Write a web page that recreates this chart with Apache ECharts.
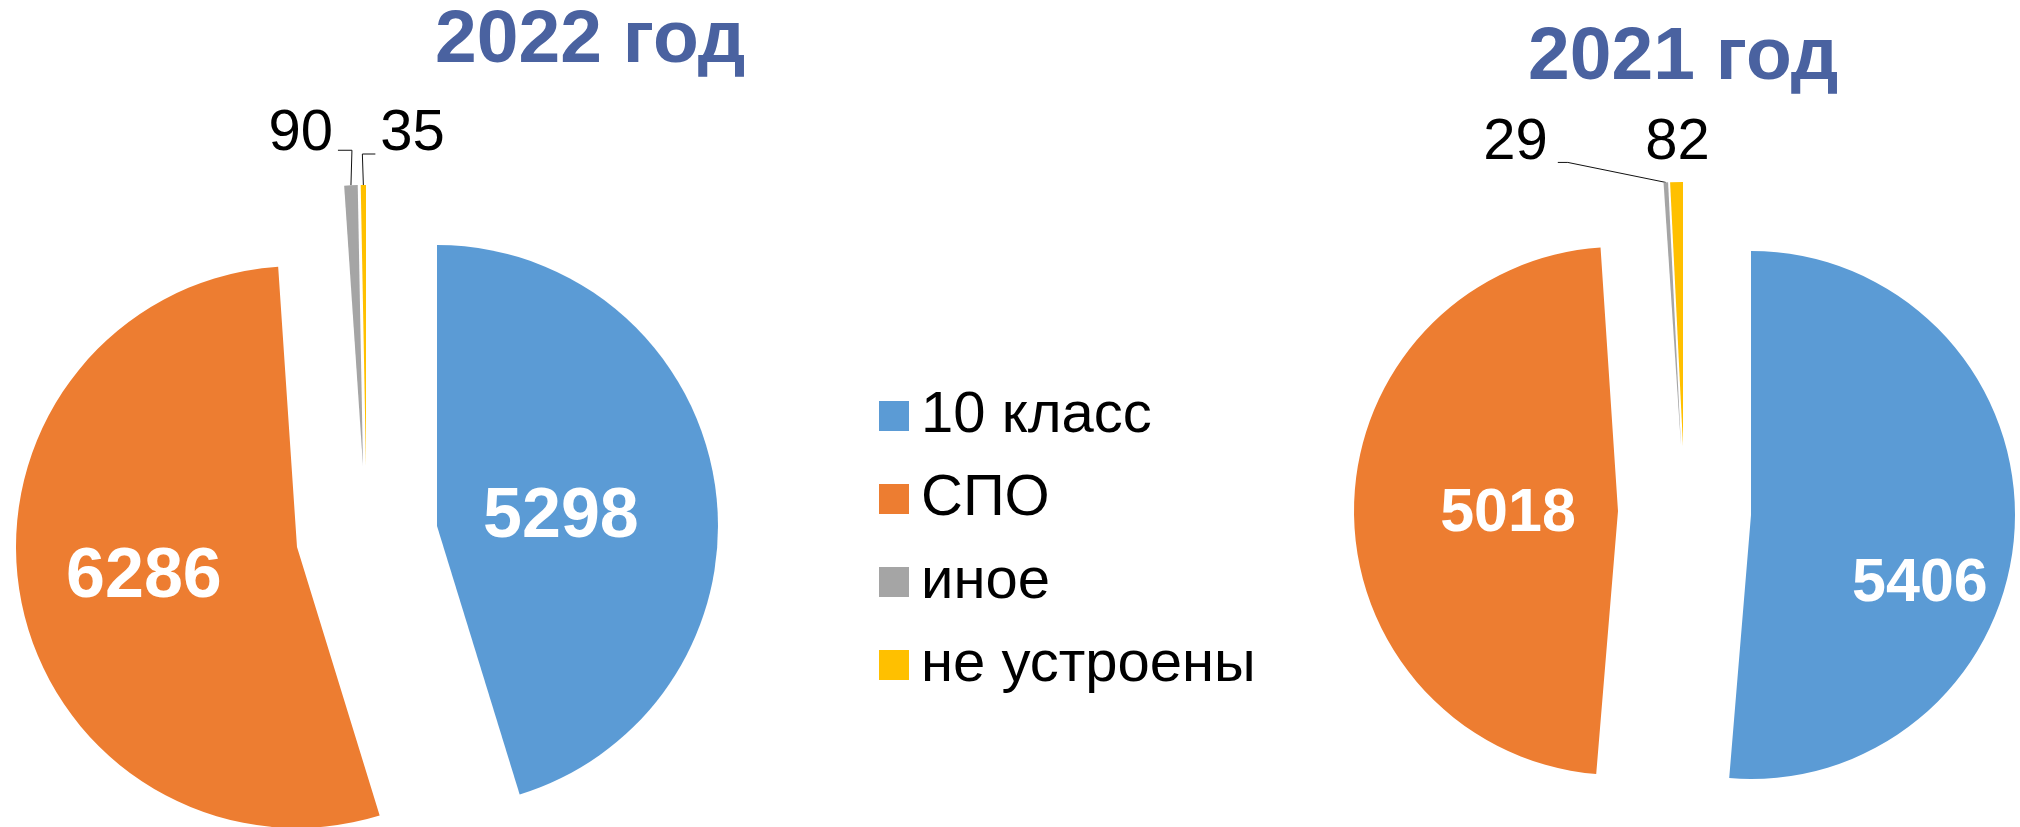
<!DOCTYPE html>
<html>
<head>
<meta charset="utf-8">
<title>Выпускники 9 классов</title>
<script src="https://cdn.jsdelivr.net/npm/echarts@6/dist/echarts.min.js"></script>
<style>
  html, body { margin: 0; background: #fff; }
  #main { width: 2020px; height: 827px; }
</style>
</head>
<body>
<div id="main"></div>
<script>
var categories = ['10 класс', 'СПО', 'иное', 'не устроены'];
var values2022 = [5298, 6286, 90, 35];
var values2021 = [5406, 5018, 29, 82];
var titles = ['2022 год', '2021 год'];
var colors = ['#5B9BD5', '#ED7D31', '#A5A5A5', '#FFC000'];

var FONT = '"Liberation Sans", Arial, sans-serif';

// each slice is exploded on its own, so every slice gets its own centre
var pieLayouts = [
  {
    values: values2022, r: 281, bigFont: 70,
    apex: [[437, 526], [297, 547], [363, 466], [366, 466]],
    nudge: [[-18, 13], [-12, 5]],
    // leader lines + label anchor, relative to the outer edge of the slice
    leader: [null, null,
      { pts: [[1, -35], [-13, -35]], at: [-18, -51], align: 'right' },
      { pts: [[-1, -31], [12, -31]], at: [17, -51], align: 'left' }]
  },
  {
    values: values2021, r: 264, bigFont: 61,
    apex: [[1751, 515], [1618, 511], [1681, 446], [1683, 446]],
    nudge: [[34, 64], [25, 4]],
    leader: [null, null,
      { pts: [[-98, -20], [-108, -20]], at: [-118, -39], align: 'right' },
      { pts: [[0, 0], [0, 0]], at: [1, -39], align: 'center' }]
  }
];

function sliceSeries(pl, k) {
  var inside = k < 2;
  var data = pl.values.map(function (v, j) {
    var item = { name: categories[j], value: v };
    if (j !== k) {
      item.itemStyle = { color: 'rgba(0,0,0,0)' };
      item.label = { show: false };
      item.labelLine = { show: false };
    } else {
      item.itemStyle = { color: colors[j] };
    }
    return item;
  });
  return {
    type: 'pie',
    center: pl.apex[k],
    radius: pl.r,
    startAngle: 90,
    clockwise: true,
    avoidLabelOverlap: false,
    silent: true,
    animation: false,
    emphasis: { disabled: true },
    itemStyle: { borderWidth: 0 },
    label: inside ? {
      show: true, position: 'inside', formatter: '{c}',
      color: '#fff', fontWeight: 'bold', fontSize: pl.bigFont, fontFamily: FONT
    } : {
      show: true, position: 'outside', formatter: '{c}',
      color: '#000', fontSize: 58, fontFamily: FONT
    },
    labelLine: { show: !inside, length: 20, length2: 10, lineStyle: { color: '#111', width: 1 } },
    labelLayout: function (p) {
      if (p.dataIndex !== k) return {};
      if (inside) return { dx: pl.nudge[k][0], dy: pl.nudge[k][1] };
      var ld = pl.leader[k];
      var pts = p.labelLinePoints;
      if (!pts || !pts[0]) return {};
      var p0 = pts[0];
      return {
        x: p0[0] + ld.at[0],
        y: p0[1] + ld.at[1],
        align: ld.align,
        verticalAlign: 'middle',
        labelLinePoints: [
          [p0[0], p0[1]],
          [p0[0] + ld.pts[0][0], p0[1] + ld.pts[0][1]],
          [p0[0] + ld.pts[1][0], p0[1] + ld.pts[1][1]]
        ]
      };
    },
    data: data
  };
}

var series = [];
pieLayouts.forEach(function (pl) {
  for (var k = 0; k < categories.length; k++) series.push(sliceSeries(pl, k));
});

var chartDom = document.getElementById('main');
var myChart = echarts.init(chartDom);

myChart.setOption({
  animation: false,
  backgroundColor: '#fff',
  title: [
    { text: titles[0], left: 435, top: 4, padding: 0,
      textStyle: { fontSize: 75, fontWeight: 'bold', color: '#4A62A0', fontFamily: FONT } },
    { text: titles[1], left: 1528, top: 21, padding: 0,
      textStyle: { fontSize: 75, fontWeight: 'bold', color: '#4A62A0', fontFamily: FONT } }
  ],
  legend: {
    orient: 'vertical',
    left: 879,
    top: 387,
    padding: 0,
    itemWidth: 30,
    itemHeight: 30,
    itemGap: 25,
    icon: 'rect',
    selectedMode: false,
    textStyle: { fontSize: 58, lineHeight: 56, color: '#000', fontFamily: FONT, padding: [0, 0, 0, 7] },
    data: categories.map(function (c, i) {
      return { name: c, itemStyle: { color: colors[i] } };
    })
  },
  series: series
});

window.addEventListener('resize', myChart.resize);
</script>
</body>
</html>
